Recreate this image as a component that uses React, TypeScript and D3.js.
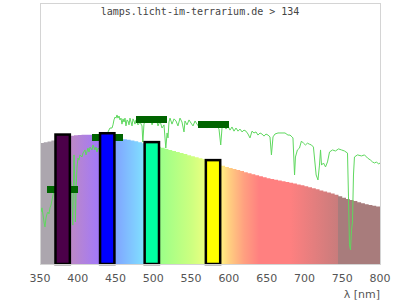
import React from "react";
import * as d3 from "d3";

const W = 400;
const H = 300;

// lamp spectrum, 5 nm bins starting at 350 nm (relative units)
const binStart = d3.range(350, 800, 5);
const lampValues = [
  46.4, 46.6, 46.9, 47.3, 48.0, 48.4, 48.7, 48.9, 49.1, 49.3,
  49.4, 49.5, 49.5, 49.5, 49.4, 49.3, 49.1, 48.9, 48.6, 48.4,
  48.2, 48.0, 47.8, 47.6, 47.3, 47.0, 46.6, 46.3, 45.9, 45.6,
  45.2, 44.9, 44.5, 44.1, 43.7, 43.3, 42.9, 42.5, 42.1, 41.7,
  41.3, 40.9, 40.5, 40.1, 39.6, 39.1, 38.6, 38.1, 37.6, 37.2,
  36.8, 36.4, 36.0, 35.6, 35.2, 34.8, 34.4, 34.0, 33.6, 33.2,
  32.9, 32.6, 32.3, 32.0, 31.7, 31.4, 31.1, 30.8, 30.5, 30.2,
  29.8, 29.4, 29.0, 28.6, 28.2, 27.8, 27.4, 27.0, 26.5, 26.0,
  25.4, 24.9, 24.5, 24.1, 23.7, 23.3, 22.9, 22.6, 22.3, 22.0,
];

// reference (sun) spectrum
const sunNm = [
  351.3, 352.6, 354.0, 355.3, 356.6, 357.9, 359.3, 360.6, 361.9, 363.2,
  364.6, 365.9, 367.2, 368.5, 371.2, 373.8, 376.5, 379.1, 381.8, 384.4,
  387.1, 389.7, 391.0, 392.4, 393.4, 394.2, 395.0, 396.0, 396.9, 398.0,
  399.0, 400.3, 401.6, 402.9, 405.6, 406.9, 409.6, 410.9, 413.5, 414.9,
  416.2, 418.8, 420.1, 422.8, 424.1, 425.4, 426.8, 429.4, 432.1, 434.7,
  437.4, 440.0, 442.6, 445.3, 446.6, 447.9, 449.3, 450.6, 451.9, 453.2,
  454.6, 455.9, 457.2, 458.5, 459.9, 461.2, 462.5, 463.8, 465.2, 466.5,
  467.8, 469.1, 470.5, 471.8, 473.1, 474.4, 475.7, 477.1, 479.7, 482.4,
  485.0, 486.1, 487.6, 490.3, 493.0, 495.6, 498.3, 500.9, 503.6, 506.2,
  508.8, 511.5, 514.1, 516.5, 518.2, 519.4, 520.7, 522.1, 524.7, 527.4,
  530.0, 532.6, 535.3, 537.9, 540.6, 541.9, 544.6, 547.2, 549.9, 552.5,
  555.2, 557.8, 560.5, 563.1, 565.8, 568.4, 571.0, 573.7, 576.3, 579.0,
  581.6, 584.3, 586.9, 589.2, 590.9, 593.5, 596.2, 598.8, 601.5, 604.1,
  606.8, 609.4, 612.1, 614.7, 617.4, 620.0, 622.6, 625.3, 627.9, 630.6,
  633.2, 635.9, 638.5, 641.2, 643.8, 646.5, 649.1, 651.8, 654.4, 656.3,
  658.4, 661.0, 665.0, 667.6, 671.6, 674.3, 678.2, 680.9, 683.5, 684.8,
  686.9, 688.1, 690.7, 693.4, 696.0, 698.7, 701.3, 704.0, 706.6, 709.3,
  711.9, 715.5, 717.9, 719.9, 721.3, 722.6, 725.2, 727.9, 730.5, 733.2,
  737.1, 741.1, 745.1, 749.1, 753.0, 757.0, 758.3, 759.6, 760.9, 762.3,
  763.6, 764.9, 766.2, 770.2, 775.5, 779.5, 783.5, 787.5, 790.1, 792.8,
  795.4, 798.1, 800.0,
];
const sunValues = [
  19.9, 21.5, 18.8, 16.1, 14.2, 17.6, 19.2, 19.9, 19.2, 21.5,
  22.6, 24.5, 26.4, 27.6, 29.1, 28.4, 30.3, 29.1, 31.4, 30.3,
  32.2, 33.0, 31.4, 24.5, 14.9, 28.4, 41.8, 32.2, 16.1, 30.3,
  37.2, 40.6, 39.8, 41.8, 41.0, 42.5, 43.7, 41.8, 44.4, 42.9,
  44.8, 43.7, 45.6, 43.7, 44.8, 42.9, 44.4, 43.7, 46.7, 47.5,
  49.4, 50.6, 52.1, 52.1, 53.3, 55.2, 56.3, 55.9, 57.1, 55.9,
  56.7, 55.2, 55.9, 53.6, 55.6, 54.4, 55.9, 52.9, 55.2, 54.8,
  53.3, 55.9, 54.4, 52.9, 55.6, 54.8, 53.6, 55.2, 53.3, 54.4,
  52.9, 46.7, 53.6, 55.9, 54.4, 56.7, 53.3, 55.2, 55.9, 52.9,
  54.8, 52.1, 53.3, 44.4, 50.2, 48.3, 54.4, 55.9, 53.6, 55.6,
  54.8, 52.9, 55.9, 54.4, 50.6, 54.8, 53.3, 55.2, 54.0, 52.9,
  54.8, 53.6, 52.5, 54.0, 52.9, 53.6, 52.1, 53.3, 52.5, 53.6,
  52.1, 52.9, 51.7, 45.6, 52.1, 53.3, 51.7, 52.9, 51.3, 52.5,
  50.9, 52.1, 50.9, 51.7, 50.6, 51.3, 50.9, 49.8, 48.3, 50.9,
  50.2, 50.6, 49.4, 50.2, 49.8, 49.0, 49.8, 49.4, 48.7, 41.8,
  48.7, 49.8, 50.2, 50.2, 50.2, 50.2, 49.4, 49.4, 48.7, 48.3,
  34.1, 41.0, 43.7, 44.4, 47.1, 46.3, 45.6, 46.3, 45.9, 45.6,
  44.8, 34.1, 32.2, 37.9, 43.7, 37.9, 38.7, 37.2, 39.1, 42.9,
  43.7, 43.3, 44.1, 43.7, 43.3, 42.5, 25.7, 7.3, 5.4, 13.0,
  16.1, 34.1, 41.0, 41.8, 41.4, 41.8, 40.6, 39.8, 39.1, 38.7,
  39.1, 38.3, 38.7,
];

// measured bands (bars) and reference markers
const bandCenters = [380, 439, 498, 579];
const bandColors = ["#4b0049", "#0000ff", "#00ffa0", "#ffff00"];
const bandValues = [49.6, 50.1, 46.7, 39.8];
const markerValues = [28.4, 48.5, 55.4, 53.4];

const xTicks = [350, 400, 450, 500, 550, 600, 650, 700, 750, 800];

// colour stops of the spectrum background
const stopNm = [350, 378, 392, 430, 440, 450, 490, 500, 510, 550, 570, 590, 600, 620, 640, 680, 745, 745, 800];
const stopColors = [
  "#aca6ae", "#aca6ae", "#bc88c8", "#a078fc", "#8890ff", "#80a4ff", "#80e4ff", "#80ffb8",
  "#9cff88", "#ccff80", "#ecff80", "#fff080", "#ffd080", "#ffa080", "#ff8080", "#ff8080",
  "#c87c7c", "#a87c7c", "#a87c7c",
];

export default function App() {
  const left = 40, right = 380, top = 3, bottom = 264;
  const x = d3.scaleLinear().domain([350, 800]).range([left, right]);
  const y = d3.scaleLinear().domain([0, 100]).range([bottom, top]);

  const areaPts: [number, number][] = binStart.map((b, i) => [b, lampValues[i]]);
  areaPts.push([800, lampValues[lampValues.length - 1]]);
  const areaPath = d3
    .area<[number, number]>()
    .x((d) => x(d[0]))
    .y0(bottom)
    .y1((d) => y(d[1]))
    .curve(d3.curveStepAfter)(areaPts) as string;

  const linePath = d3
    .line<number>()
    .x((d) => x(d))
    .y((_, i) => y(sunValues[i]))(sunNm) as string;

  const bandHalf = 9.5;
  const markerHalf = 20.5;
  const markerH = 7;

  return (
    <svg
      width={W}
      height={H}
      style={{ position: "absolute", left: 0, top: 0, background: "#fff" }}
    >
      <defs>
        <linearGradient id="spec" gradientUnits="userSpaceOnUse" x1={x(350)} x2={x(800)} y1={0} y2={0}>
          {stopNm.map((n, i) => (
            <stop key={i} offset={(n - 350) / 450} stopColor={stopColors[i]} />
          ))}
        </linearGradient>
      </defs>
      <path d={areaPath} fill="url(#spec)" />
      <path d={linePath} fill="none" stroke="#5ed85e" strokeWidth={1} />
      {bandCenters.map((c, i) => (
        <rect
          key={"m" + i}
          x={x(c - markerHalf)}
          y={y(markerValues[i]) - markerH / 2}
          width={x(c + markerHalf) - x(c - markerHalf)}
          height={markerH}
          fill="#006400"
          shapeRendering="crispEdges"
        />
      ))}
      {bandCenters.map((c, i) => (
        <rect
          key={"b" + i}
          x={x(c - bandHalf)}
          y={y(bandValues[i])}
          width={x(c + bandHalf) - x(c - bandHalf)}
          height={bottom - y(bandValues[i])}
          fill={bandColors[i]}
          stroke="#000"
          strokeWidth={2.5}
        />
      ))}
      <rect
        x={left + 0.5}
        y={top + 0.5}
        width={right - left}
        height={bottom - top}
        fill="none"
        stroke="#d4d4d4"
        strokeWidth={1}
      />
      {xTicks.map((t) => (
        <text
          key={t}
          x={x(t)}
          y={282}
          textAnchor="middle"
          fontFamily="DejaVu Sans"
          fontSize={11}
          fill="#555"
        >
          {t}
        </text>
      ))}
      <text x={right} y={298} textAnchor="end" fontFamily="DejaVu Sans" fontSize={11} fill="#555">
        λ [nm]
      </text>
      <text
        x={200}
        y={15}
        textAnchor="middle"
        fontFamily="DejaVu Sans Mono"
        fontSize={10}
        fill="#444"
      >
        lamps.licht-im-terrarium.de &gt; 134
      </text>
    </svg>
  );
}
